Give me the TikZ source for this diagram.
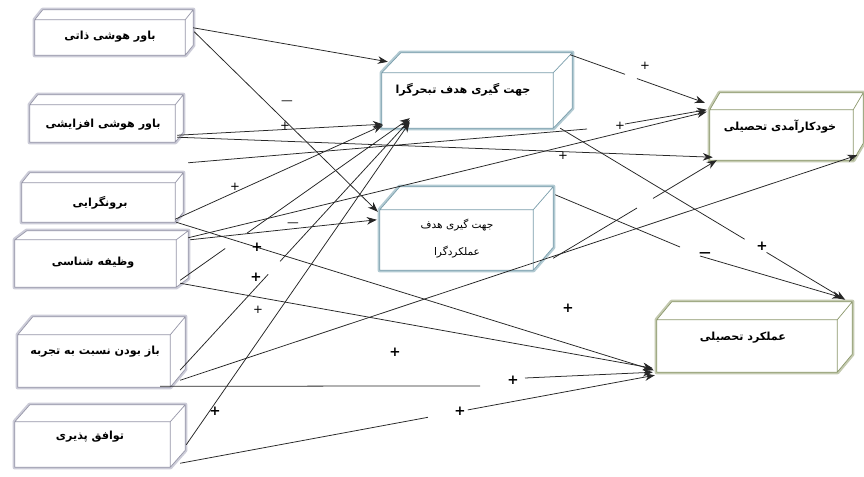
\documentclass[tikz,border=0pt]{standalone}
\usepackage{fontspec}
\usetikzlibrary{calc,fit,arrows.meta}
\TeXXeTstate=1
\newfontfamily\fa[Script=Arabic]{DejaVu Sans}
\newfontfamily\lat{DejaVu Sans}
\definecolor{lgray}{RGB}{204,204,216}
\definecolor{dgray}{RGB}{150,150,168}
\definecolor{lblue}{RGB}{178,202,210}
\definecolor{dblue}{RGB}{122,158,172}
\definecolor{lgreen}{RGB}{196,202,176}
\definecolor{dgreen}{RGB}{140,152,108}
\tikzset{
 conn/.style={draw=black!85, line width=0.65pt},
 arr/.style={conn, -{Stealth[length=8.5pt,width=6.5pt]}},
 lbl/.style={font=\lat\bfseries\fontsize{11.5}{11.5}\selectfont, inner sep=0pt},
 slbl/.style={font=\lat\fontsize{10}{10}\selectfont, inner sep=0pt},
 mlbl/.style={font=\lat\fontsize{10}{10}\selectfont, inner sep=0pt},
 ttl/.style={font=\fa\bfseries\fontsize{9.5}{11}\selectfont, inner sep=0pt, align=center},
 ttn/.style={font=\fa\fontsize{9}{11}\selectfont, inner sep=0pt, align=center},
}
\newcommand\cubebox[9]{%
 \node[fit={(#2,#3) (#4,#5)}, inner sep=0pt] (#1) {};
 \draw[line width=2pt, draw=#9!55, line join=round, shift={(2,2)}]
   ($(#1.north east)+(#6,-#7)$) -- ($(#1.south east)+(#6,-#7)$) -- (#1.south east) -- (#1.south west);
 \foreach \w/\c in {3.8pt/#8, 0.6pt/#9} {
  \draw[line width=\w, draw=\c, fill=white, line join=round]
   (#1.north west) -- ++(#6,-#7) -- ($(#1.north east)+(#6,-#7)$) -- ($(#1.south east)+(#6,-#7)$) -- (#1.south east) -- (#1.south west) -- cycle
   (#1.north west) -- (#1.north east) -- (#1.south east)
   (#1.north east) -- ++(#6,-#7);
 }
}
\begin{document}
\begin{tikzpicture}[x=0.03cm,y=-0.03cm]
\fill[white] (0,0) rectangle (864,477);
\useasboundingbox (0,0) rectangle (864,477);
% boxes
\cubebox{b1}{35}{20}{185}{55}{8}{10}{lgray}{dgray}
\cubebox{b2}{30}{105}{175}{142}{8}{10}{lgray}{dgray}
\cubebox{b3}{22}{183}{175}{222}{8}{10}{lgray}{dgray}
\cubebox{b4}{15}{240}{176}{287}{12}{9}{lgray}{dgray}
\cubebox{b5}{18}{335}{170}{387}{15}{18}{lgray}{dgray}
\cubebox{b6}{15}{422}{170}{467}{15}{17}{lgray}{dgray}
\cubebox{b7}{382}{73}{553}{128}{19}{20}{lblue}{dblue}
\cubebox{b8}{380}{210}{533}{270}{20}{23}{lblue}{dblue}
\cubebox{b9}{710}{110}{853}{160}{10}{17}{lgreen}{dgreen}
\cubebox{b10}{657}{320}{837}{372}{15}{18}{lgreen}{dgreen}
% titles
\node[ttl] (t1) at (110,37) {\beginR باور هوشی ذاتی\endR};
\node[ttl] (t2) at (103,125) {\beginR باور هوشی افزایشی\endR};
\node[ttl] (t3) at (100,203) {\beginR برونگرایی\endR};
\node[ttl] (t4) at (93,263) {\beginR وظیفه شناسی\endR};
\node[ttl] (t5) at (95,352) {\beginR باز بودن نسبت به تجربه\endR};
\node[ttl] (t6) at (90,437) {\beginR توافق پذیری\endR};
\node[ttl] (t7) at (463,90) {\beginR جهت گیری هدف تبحرگرا\endR};
\node[ttn] (t8a) at (457,225) {\beginR جهت گیری هدف\endR};
\node[ttn] (t8b) at (457,252) {\beginR عملکردگرا\endR};
\node[ttl] (t9) at (780,127) {\beginR خودکارآمدی تحصیلی\endR};
\node[ttl] (t10) at (743,338) {\beginR عملکرد تحصیلی\endR};
% connectors
\draw[arr] ($(b1.north east)+(8,8)$) -- ($(b7.north west)+(6,-11)$);
\draw[arr] ($(b1.north east)+(9,12)$) -- ($(b8.north west)+(-2,2)$);
\draw[arr] ($(b2.south east)+(2,-7)$) -- ($(b7.south west)+(1,-4)$);
\draw[arr] ($(b2.south east)+(2,-5)$) -- ($(b9.south west)+(3,-3)$);
\coordinate (g5a) at (587,129); \coordinate (g5b) at (625,124);
\draw[arr] ($(b3.north east)+(13,-20)$) -- (g5a) (g5b) -- ($(b9.north west)+(-3,0)$);
\draw[arr] ($(b3.south east)+(0,-3)$) -- ($(b7.south west)+(1,-3)$);
\draw[arr] ($(b3.south east)+(1,0)$) -- ($(b10.south west)+(-3,-2)$);
\draw[arr] ($(b4.north east)+(12,-2)$) -- ($(b9.north west)+(-3,2)$);
\draw[arr] ($(b4.north east)+(14,0)$) -- ($(b8.north west)+(-3,10)$);
\path ($(b4.south east)+(4,-7)$) coordinate (s10) ($(b7.south west)+(28,-10)$) coordinate (e10);
\draw[arr] (s10) -- ($(s10)!0.196!(e10)$) ($(s10)!0.291!(e10)$) -- (e10);
\draw[arr] ($(b4.south east)+(4,-4)$) -- ($(b10.south west)+(-4,-4)$);
\path ($(b5.east)+(10,9)$) coordinate (s12) ($(b7.south west)+(28,-8)$) coordinate (e12);
\draw[arr] (s12) -- ($(s12)!0.383!(e12)$) ($(s12)!0.435!(e12)$) -- (e12);
\draw[arr] ($(b6.north east)+(16,23)$) -- ($(b7.south west)+(28,-6)$);
\draw[arr] ($(b5.south east)+(10,-7)$) -- ($(b9.south east)+(4,-5)$);
\coordinate (g15a) at (480,386); \coordinate (g15b) at (525,378);
\draw[arr] ($(b5.south east)+(-10,-1)$) -- (g15a) (g15b) -- ($(b10.south west)+(-4,0)$);
\path ($(b6.south east)+(10,-4)$) coordinate (s16) ($(b10.south west)+(-2,3)$) coordinate (e16);
\draw[arr] (s16) -- ($(s16)!0.522!(e16)$) ($(s16)!0.606!(e16)$) -- (e16);
\path ($(b7.north east)+(17,-18)$) coordinate (s17) ($(b9.north west)+(-5,-7)$) coordinate (e17);
\draw[arr] (s17) -- ($(s17)!0.407!(e17)$) ($(s17)!0.496!(e17)$) -- (e17);
\path ($(b7.south east)+(7,0)$) coordinate (s18) ($(b10.north east)+(8,-20)$) coordinate (e18);
\draw[arr] (s18) -- ($(s18)!0.647!(e18)$) ($(s18)!0.724!(e18)$) -- (e18);
\coordinate (g19a) at (680,247); \coordinate (g19b) at (700,256);
\draw[arr] ($(b8.north east)+(22,-15)$) -- (g19a) (g19b) -- ($(b10.north east)+(5,-22)$);
\path ($(b8.south east)+(20,-12)$) coordinate (s20) ($(b9.south west)+(7,0)$) coordinate (e20);
\draw[arr] (s20) -- ($(s20)!0.512!(e20)$) ($(s20)!0.61!(e20)$) -- (e20);
% signs
\node[slbl] (p1) at (645,66) {+};
\node[slbl] (p2) at (620,126) {+};
\node[slbl] (p3) at (563,156) {+};
\node[mlbl] (m1) at (287,103) {—};
\node[slbl] (p4) at (285,126) {+};
\node[slbl] (p5) at (235,187) {+};
\node[mlbl] (m2) at (293,225) {—};
\node[lbl] (p6) at (257,247) {+};
\node[lbl] (p7) at (256,277) {+};
\node[slbl] (p8) at (258,310) {+};
\node[lbl] (p9) at (215,411) {+};
\node[lbl] (p10) at (395,352) {+};
\node[lbl] (p11) at (568,308) {+};
\node[lbl] (p12) at (513,380) {+};
\node[lbl] (p13) at (460,411) {+};
\node[lbl] (p14) at (762,246) {+};
\node[mlbl, font=\lat\bfseries\fontsize{10}{10}\selectfont] (m3) at (705,255) {—};
\end{tikzpicture}
\end{document}
